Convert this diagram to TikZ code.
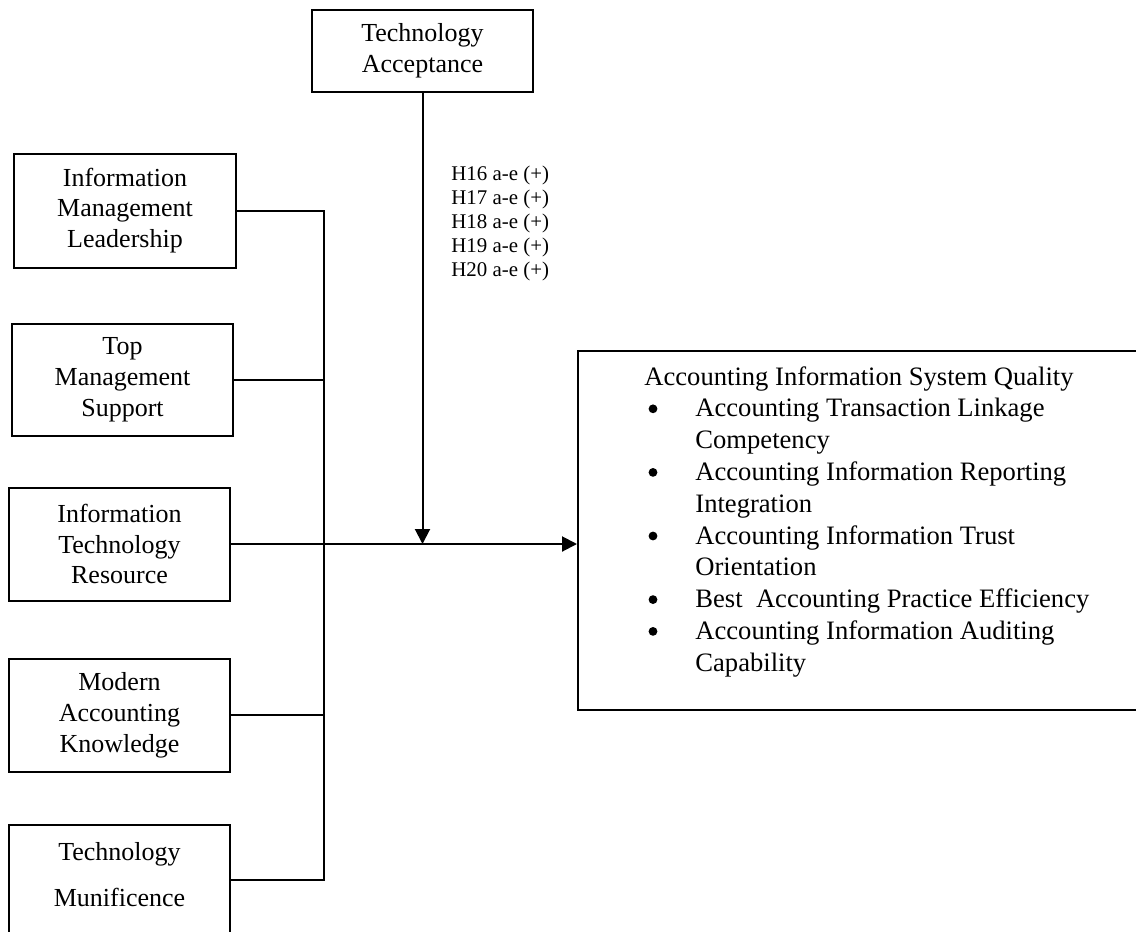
\documentclass[tikz,border=0pt]{standalone}
\usepackage{fontspec}
\setmainfont{Liberation Serif}
\usetikzlibrary{arrows.meta}
\begin{document}
\begin{tikzpicture}[x=0.5pt,y=-0.5pt,
  box/.style={draw, line width=1pt, inner sep=0pt, align=center, font=\fontsize{13}{15.4}\selectfont},
  conn/.style={line width=1pt},
  arr/.style={line width=1pt, -{Triangle[length=7.5pt,width=7.5pt]}},
  hyp/.style={anchor=base west, inner sep=0pt, font=\fontsize{10.45}{12}\selectfont},
  item/.style={anchor=base west, inner sep=0pt, font=\fontsize{13.3}{15.9}\selectfont},
  dot/.style={circle, fill, inner sep=0pt, minimum size=4.4pt}]
\useasboundingbox (0,0) rectangle (1136,932);
\clip (0,0) rectangle (1136,932);

% left-hand boxes
\node[box, minimum width=110.5pt, minimum height=41pt] (ta) at (422.5,51) {Technology\\Acceptance};
\node[box, minimum width=111pt, minimum height=57pt] (iml) at (125,210.5) {Information\\Management\\Leadership};
\node[box, minimum width=110.5pt, minimum height=56pt] (tms) at (122.5,380) {Top\\Management\\Support};
\node[box, minimum width=110.5pt, minimum height=56.5pt] (itr) at (119.5,544) {Information\\Technology\\Resource};
\node[box, minimum width=110.5pt, minimum height=56.5pt] (mak) at (119.5,715) {Modern\\Accounting\\Knowledge};
\node[box, minimum width=110.5pt, minimum height=55pt] (tm) at (119.5,880) {};
\node[box, draw=none, anchor=base] (tm1) at (119.5,860) {Technology};
\node[box, draw=none, anchor=base] (tm2) at (119.5,906) {Munificence};

% outcome box
\node[draw, line width=1pt, minimum width=290pt, minimum height=179.5pt, inner sep=0pt] (aisq) at (868,530.5) {};

% connectors
\coordinate (bus) at (324,0);
\draw[conn] (iml.east) -- (iml.east -| bus) -- (tm.east -| bus) -- (tm.east);
\draw[conn] (tms.east) -- (tms.east -| bus);
\draw[conn] (mak.east) -- (mak.east -| bus);
\draw[arr] (itr.east) -- (itr.east -| aisq.west);
\draw[arr] (ta.south) -- (ta.south |- itr.east);

% hypothesis labels
\foreach \n/\k in {16/0,17/1,18/2,19/3,20/4}
  \node[hyp] (h\n) at (451,{180+24*\k}) {H\n{} a-e (+)};

% outcome text
\node[item] (q0) at (644,385) {Accounting Information System Quality};
\node[item] (q1) at (695,416.8) {Accounting Transaction Linkage};
\node[item] (q2) at (695,448.6) {Competency};
\node[item] (q3) at (695,480.4) {Accounting Information Reporting};
\node[item] (q4) at (695,512.2) {Integration};
\node[item] (q5) at (695,544) {Accounting Information Trust};
\node[item] (q6) at (695,575.8) {Orientation};
\node[item] (q7) at (695,607.6) {Best~ Accounting Practice Efficiency};
\node[item] (q8) at (695,639.4) {Accounting Information Auditing};
\node[item] (q9) at (695,671.2) {Capability};
\node[dot] (b1) at (653,408.8) {};
\node[dot] (b2) at (653,472.4) {};
\node[dot] (b3) at (653,536) {};
\node[dot] (b4) at (653,599.6) {};
\node[dot] (b5) at (653,631.4) {};
\end{tikzpicture}
\end{document}
